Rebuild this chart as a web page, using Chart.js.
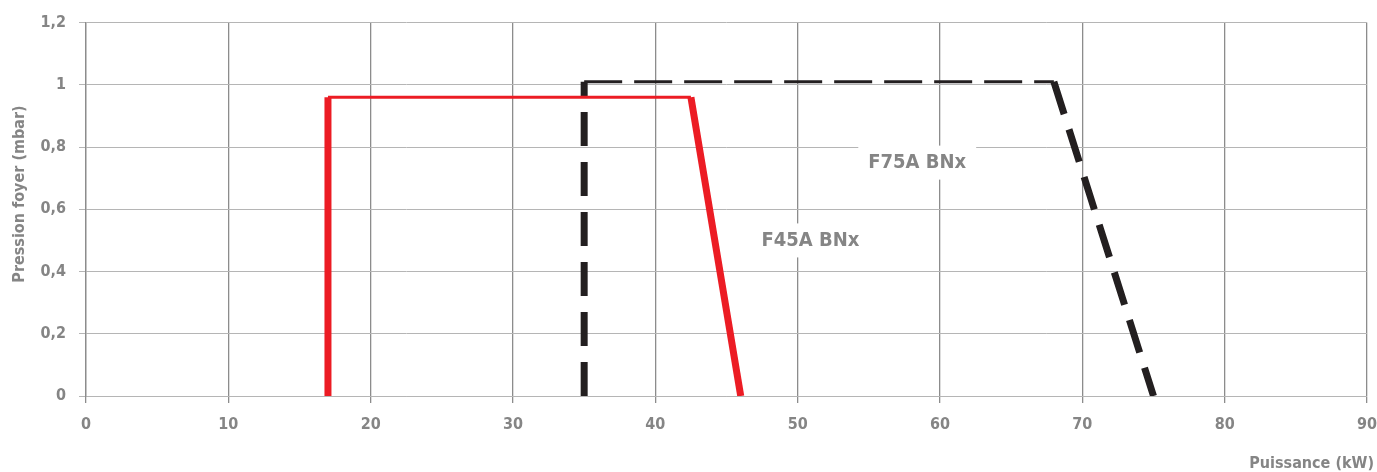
<!DOCTYPE html>
<html>
<head>
<meta charset="utf-8">
<script src="https://cdn.jsdelivr.net/npm/chart.js@4.4.1/dist/chart.umd.min.js"></script>
<style>
  html, body { margin: 0; padding: 0; background: #fff; }
  #wrap { width: 1377px; height: 472px; }
</style>
</head>
<body>
<div id="wrap"><canvas id="pressionChart"></canvas></div>
<script>
// values
var f45X = [17, 17, 42.5, 46]
var f45Y = [0, 0.96, 0.96, 0]
var f75X = [35, 35, 68, 75]
var f75Y = [0, 1.01, 1.01, 0]

var xTicks = [0, 10, 20, 30, 40, 50, 60, 70, 80, 90]
var yTicks = [0, 0.2, 0.4, 0.6, 0.8, 1, 1.2]
var yTickLabels = ['0', '0,2', '0,4', '0,6', '0,8', '1', '1,2']

var seriesLabels = ['F45A BNx', 'F75A BNx']
var labelX = [50.9, 58.4]
var labelY = [0.5, 0.75]

var FONT = "'Liberation Sans Narrow', 'DejaVu Sans Condensed', sans-serif"
var GREY = '#858585'

function toPoints (xs, ys) {
  return xs.map(function (x, i) { return { x: x, y: ys[i] } })
}

// Draw the curve names and axis titles
var textPlugin = {
  id: 'textPlugin',
  afterDatasetsDraw: function (chart) {
    var ctx = chart.ctx
    var xs = chart.scales.x
    var ys = chart.scales.y
    ctx.save()
    ctx.font = 'bold 20px ' + FONT
    ctx.textAlign = 'center'
    ctx.textBaseline = 'middle'
    seriesLabels.forEach(function (txt, i) {
      var px = xs.getPixelForValue(labelX[i])
      var py = ys.getPixelForValue(labelY[i])
      var w = ctx.measureText(txt).width
      ctx.fillStyle = '#fff'
      ctx.fillRect(px - w / 2 - 10, py - 17, w + 20, 34)
      ctx.fillStyle = GREY
      ctx.fillText(txt, px, py)
    })

    ctx.font = 'bold 16px ' + FONT
    ctx.textAlign = 'right'
    ctx.textBaseline = 'alphabetic'
    ctx.fillText('Puissance (kW)', 1374, 468)

    ctx.translate(24, 194)
    ctx.rotate(-Math.PI / 2)
    ctx.textAlign = 'center'
    ctx.fillText('Pression foyer (mbar)', 0, 0)
    ctx.restore()
  }
}

var wideNarrow = function (ctx) { return ctx.p0DataIndex === 1 ? 3 : 7 }

var ctxChart = document.getElementById('pressionChart').getContext('2d')
var pressionChart = new Chart(ctxChart, {
  type: 'line',
  data: {
    datasets: [
      {
        label: seriesLabels[0],
        data: toPoints(f45X, f45Y),
        borderColor: '#ec1c24',
        borderWidth: 7,
        pointRadius: 0,
        tension: 0,
        borderJoinStyle: 'miter',
        segment: { borderWidth: wideNarrow }
      },
      {
        label: seriesLabels[1],
        data: toPoints(f75X, f75Y),
        borderColor: '#231f20',
        borderWidth: 7,
        pointRadius: 0,
        tension: 0,
        borderCapStyle: 'butt',
        segment: {
          borderWidth: wideNarrow,
          borderDash: function (ctx) { return ctx.p0DataIndex === 1 ? [38, 12] : [34, 16] }
        }
      }
    ]
  },
  options: {
    responsive: true,
    maintainAspectRatio: false,
    animation: false,
    layout: { padding: { top: 19, right: 0, left: 0, bottom: 0 } },
    plugins: {
      legend: { display: false },
      tooltip: { enabled: false }
    },
    scales: {
      x: {
        type: 'linear',
        min: 0,
        max: 90,
        afterBuildTicks: function (scale) {
          scale.ticks = xTicks.map(function (v) { return { value: v } })
        },
        afterFit: function (scale) {
          scale.height = 76
          scale.paddingRight = 10
          scale.paddingLeft = 0
        },
        grid: {
          color: '#8c8c8c',
          lineWidth: 1.3,
          tickLength: 7,
          drawTicks: true
        },
        border: { color: '#b5b5b5', width: 1 },
        ticks: {
          color: GREY,
          padding: 12,
          maxRotation: 0,
          font: { family: FONT, size: 16, weight: 'bold' }
        }
      },
      y: {
        type: 'linear',
        min: 0,
        max: 1.2,
        afterBuildTicks: function (scale) {
          scale.ticks = yTicks.map(function (v) { return { value: v } })
        },
        afterFit: function (scale) { scale.width = 86 },
        grid: {
          color: '#b5b5b5',
          lineWidth: 1,
          tickLength: 7
        },
        border: { color: '#8c8c8c', width: 1.3 },
        ticks: {
          color: GREY,
          padding: 13,
          font: { family: FONT, size: 16, weight: 'bold' },
          callback: function (value, index) { return yTickLabels[index] }
        }
      }
    }
  },
  plugins: [textPlugin]
})
</script>
</body>
</html>
